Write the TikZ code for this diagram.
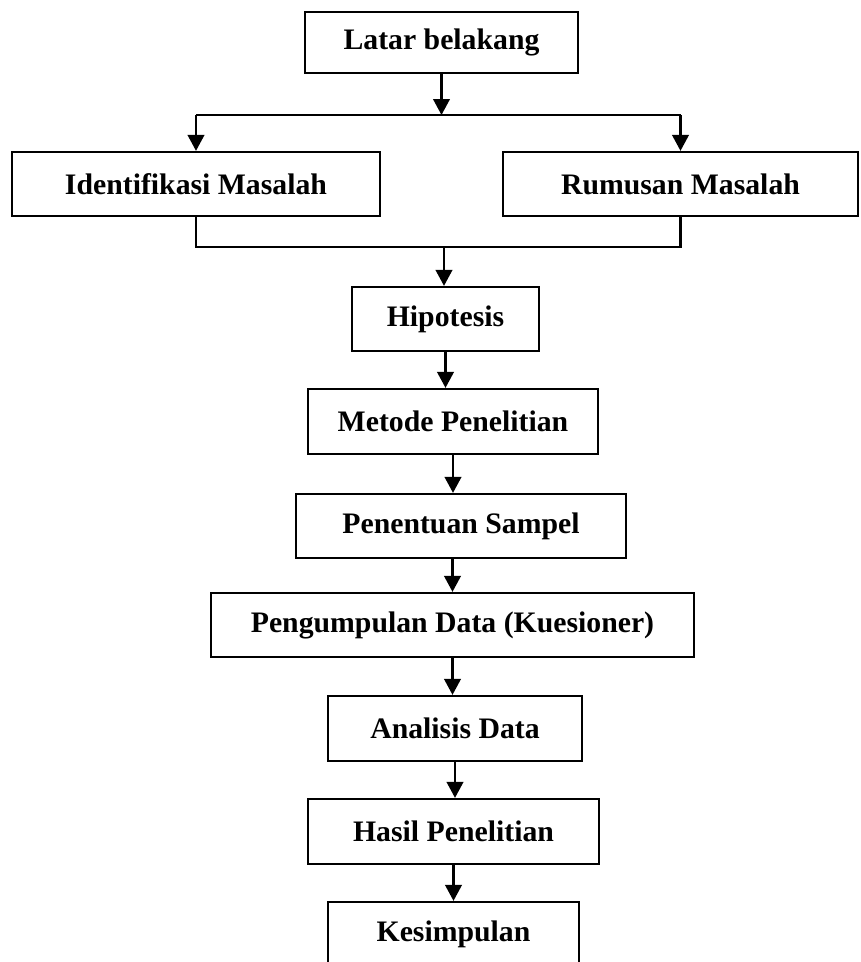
\documentclass[tikz,border=0pt]{standalone}
\usepackage{fontspec}
\setmainfont{Liberation Serif}
\usepackage{tikz}
\usetikzlibrary{arrows.meta}

\tikzset{
  kotak/.style={draw, line width=0.9pt, inner sep=0pt, minimum height=25.6pt,
    font=\fontsize{11.9}{14}\selectfont\bfseries},
  panah/.style={line width=1pt, -{Triangle[length=6.4pt,width=6.6pt]}},
  garis/.style={line width=0.9pt}
}

\begin{document}
\begin{tikzpicture}[x=0.4pt,y=-0.4pt]
          \useasboundingbox (0,0) rectangle (861,962);

          \node[kotak, minimum width=109.2pt, minimum height=24.4pt] (latar) at (441.5,42.5) {Latar belakang};
          \node[kotak, minimum width=147.2pt] (ident) at (196,184) {Identifikasi Masalah};
          \node[kotak, minimum width=142pt] (rumus) at (680.5,184) {Rumusan Masalah};
          \node[kotak, minimum width=74.8pt] (hipo) at (445.5,319) {Hipotesis};
          \node[kotak, minimum width=116pt, minimum height=26pt] (metode) at (453,421.5) {Metode Penelitian};
          \node[kotak, minimum width=132pt] (sampel) at (461,526) {Penentuan Sampel};
          \node[kotak, minimum width=193.2pt] (data) at (452.5,625) {Pengumpulan Data (Kuesioner)};
          \node[kotak, minimum width=101.6pt, minimum height=26pt] (analisis) at (455,728.5) {Analisis Data};
          \node[kotak, minimum width=116.4pt, minimum height=26pt] (hasil) at (453.5,831.5) {Hasil Penelitian};
          \node[kotak, minimum width=100.4pt, minimum height=26pt] (simpul) at (453.5,934.5) {Kesimpulan};

          \coordinate (cabang) at (441.5,115);
          \coordinate (gabung) at (444,247);

          \draw[panah] (latar.south) -- (cabang);
          \draw[garis] (cabang -| ident.north) -- (cabang -| rumus.north);
          \draw[panah] (cabang -| ident.north) -- (ident.north);
          \draw[panah] (cabang -| rumus.north) -- (rumus.north);

          \draw[garis] (ident.south) -- (ident.south |- gabung) -- (rumus.south |- gabung) -- (rumus.south);
          \draw[panah] (gabung) -- (gabung |- hipo.north);

          \draw[panah] (hipo.south) -- (hipo.south |- metode.north);
          \draw[panah] (metode.south) -- (metode.south |- sampel.north);
          \draw[panah] (sampel.south -| data.north) -- (data.north);
          \draw[panah] (data.south) -- (data.south |- analisis.north);
          \draw[panah] (analisis.south) -- (analisis.south |- hasil.north);
          \draw[panah] (hasil.south) -- (simpul.north);
        \end{tikzpicture}
\end{document}
